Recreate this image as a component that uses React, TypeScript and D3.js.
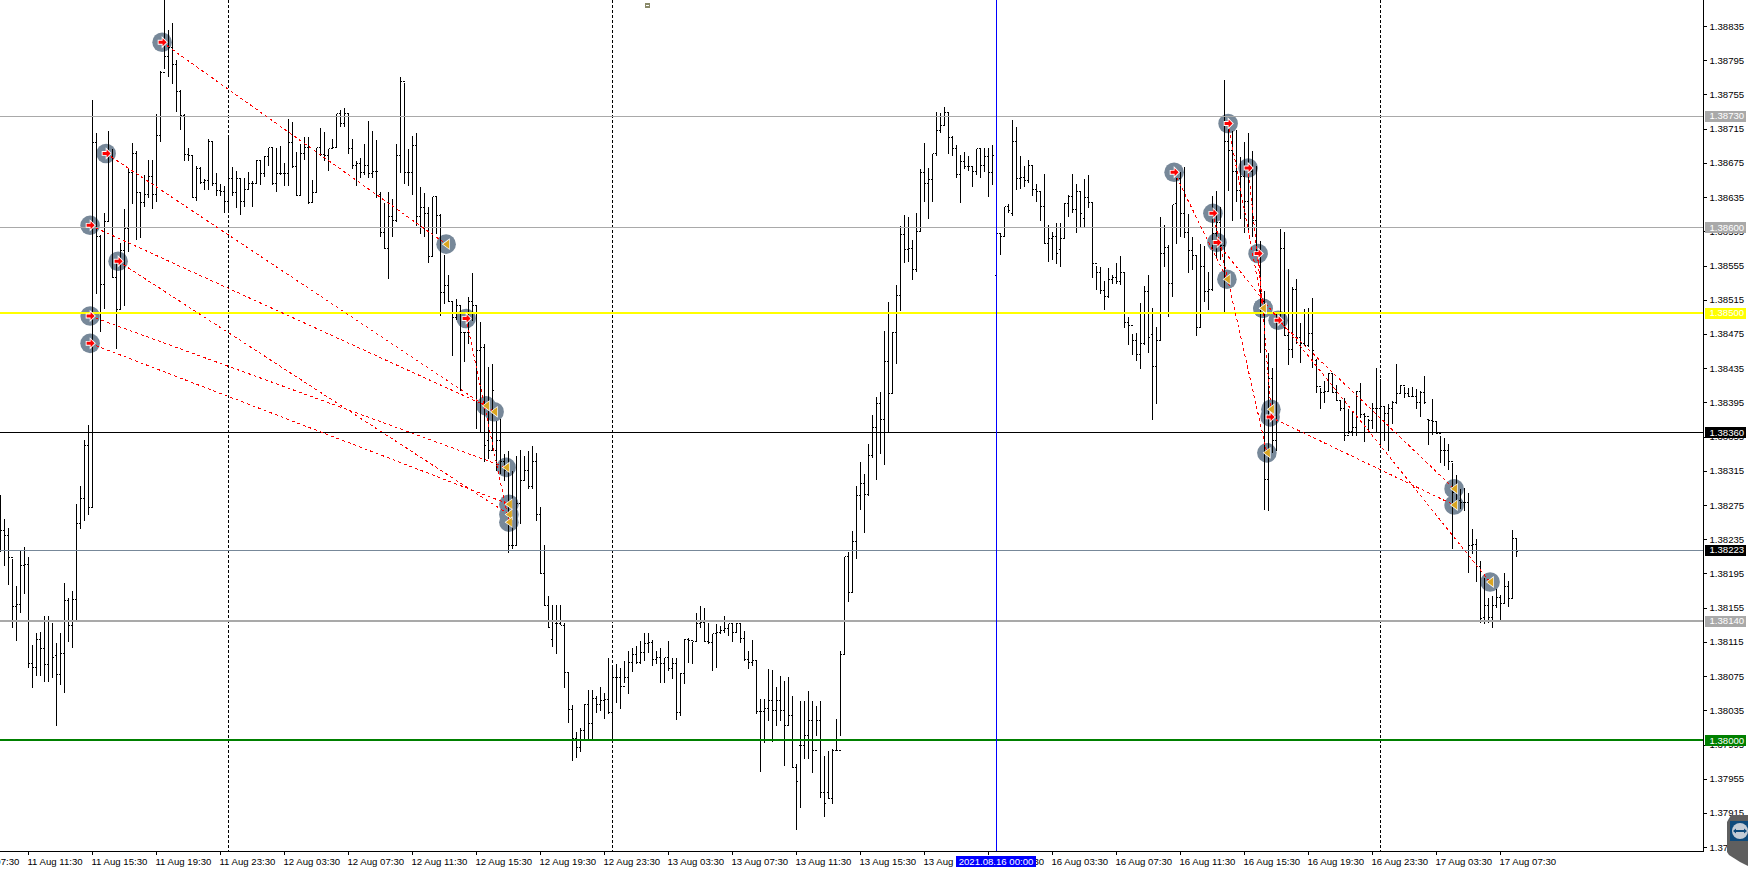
import { useEffect, useRef } from "react";
import * as d3 from "d3";

const WIDTH = 1748;
const HEIGHT = 870;

// M15 bars, values are points above 1.37000 (1835 = 1.38835)
const barHigh = [
  1288,1260,1249,1213,1181,1222,1227,1215,1112,1126,1128,1146,1146,1138,1115,1126,1185,1167,1176,1277,
  1298,1352,1370,1750,1711,1592,1617,1713,1692,1559,1583,1622,1669,1699,1690,1641,1662,1679,1680,1733,
  1784,1875,1831,1840,1796,1761,1733,1694,1684,1672,1671,1657,1704,1700,1664,1652,1649,1705,1671,1667,
  1657,1658,1665,1655,1679,1680,1684,1694,1693,1693,1696,1676,1727,1724,1689,1698,1706,1706,1656,1693,
  1717,1712,1692,1704,1733,1738,1740,1735,1704,1678,1682,1698,1725,1714,1703,1642,1629,1642,1634,1698,
  1776,1769,1692,1707,1711,1648,1641,1624,1636,1636,1616,1569,1545,1514,1517,1509,1477,1519,1547,1509,
  1490,1464,1438,1441,1374,1377,1336,1339,1316,1333,1341,1333,1339,1345,1337,1274,1229,1170,1159,1159,
  1159,1138,1080,1042,1011,1015,1043,1060,1060,1053,1063,1057,1097,1086,1090,1086,1094,1105,1109,1111,
  1117,1126,1126,1118,1105,1109,1097,1117,1097,1097,1080,1119,1121,1116,1150,1158,1156,1138,1125,1137,
  1135,1146,1137,1138,1138,1138,1129,1105,1118,1094,1050,1050,1084,1083,1064,1076,1070,1075,1053,973,
  1047,1047,1059,1047,1041,1047,983,989,991,1026,1105,1215,1221,1246,1299,1327,1312,1348,1381,1403,
  1408,1480,1514,1478,1533,1602,1615,1613,1586,1618,1669,1699,1670,1687,1736,1735,1741,1734,1708,1697,
  1685,1689,1684,1671,1692,1692,1693,1694,1697,1593,1593,1624,1628,1726,1718,1684,1672,1680,1672,1652,
  1643,1663,1603,1595,1606,1606,1629,1639,1663,1651,1642,1657,1662,1631,1556,1555,1538,1553,1545,1559,
  1567,1547,1496,1476,1477,1512,1532,1545,1507,1484,1613,1604,1580,1627,1658,1666,1671,1616,1589,1567,
  1581,1579,1549,1638,1643,1625,1773,1725,1713,1715,1683,1701,1711,1690,1672,1585,1526,1454,1436,1499,
  1599,1595,1552,1531,1540,1489,1505,1506,1518,1447,1413,1421,1430,1431,1417,1398,1401,1388,1386,1409,
  1419,1384,1377,1395,1436,1423,1392,1394,1398,1441,1417,1414,1413,1414,1412,1409,1427,1375,1400,1374,
  1357,1354,1347,1325,1311,1295,1296,1290,1248,1236,1211,1191,1167,1170,1178,1171,1197,1187,1247,1236,
];

const barLow = [
  1221,1205,1183,1133,1117,1150,1172,1086,1062,1076,1076,1069,1069,1074,1018,1066,1057,1116,1109,1142,
  1248,1257,1265,1273,1523,1479,1505,1607,1541,1458,1504,1509,1572,1628,1586,1588,1624,1635,1622,1631,
  1700,1786,1777,1768,1736,1715,1678,1678,1635,1632,1651,1645,1645,1649,1637,1638,1618,1620,1638,1623,
  1615,1624,1644,1624,1651,1650,1660,1672,1650,1642,1662,1649,1649,1670,1637,1637,1680,1628,1629,1641,
  1684,1678,1667,1692,1693,1718,1718,1687,1669,1649,1659,1662,1658,1659,1635,1590,1575,1540,1589,1607,
  1664,1651,1649,1639,1602,1593,1590,1559,1566,1593,1497,1511,1514,1450,1493,1409,1443,1464,1491,1365,
  1362,1327,1330,1339,1316,1312,1304,1220,1225,1230,1254,1305,1295,1295,1257,1195,1158,1132,1110,1102,
  1136,1062,1021,977,980,987,1003,1003,1003,1033,1035,1026,1032,1000,1045,1038,1068,1055,1081,1090,
  1090,1094,1103,1088,1090,1068,1068,1082,1073,1025,1029,1067,1091,1090,1116,1133,1116,1114,1082,1086,
  1125,1126,1123,1116,1126,1115,1094,1084,1088,1032,964,998,1024,999,1018,1024,971,1018,969,896,
  922,979,979,963,1006,934,911,932,927,989,1006,1101,1163,1174,1213,1270,1244,1287,1331,1305,
  1336,1323,1360,1406,1441,1503,1559,1560,1539,1549,1595,1631,1610,1631,1684,1711,1719,1686,1684,1659,
  1629,1669,1667,1648,1662,1659,1666,1636,1650,1544,1569,1590,1618,1614,1645,1646,1648,1653,1637,1631,
  1608,1581,1560,1563,1558,1555,1587,1613,1617,1594,1600,1600,1623,1541,1528,1523,1504,1518,1534,1534,
  1533,1483,1463,1452,1444,1435,1463,1454,1375,1394,1469,1554,1496,1519,1581,1589,1588,1548,1551,1474,
  1483,1514,1504,1526,1565,1563,1502,1643,1608,1630,1610,1594,1597,1590,1569,1454,1270,1269,1337,1339,
  1495,1474,1440,1448,1465,1442,1462,1461,1436,1407,1389,1395,1409,1407,1398,1386,1351,1359,1357,1357,
  1378,1350,1360,1365,1362,1344,1351,1339,1371,1394,1406,1401,1402,1402,1389,1379,1394,1346,1358,1359,
  1325,1322,1317,1225,1278,1271,1269,1197,1219,1186,1138,1137,1138,1133,1156,1140,1161,1157,1167,1215,
];

const barOpen = [
  1270,1246,1240,1214,1157,1159,1205,1206,1090,1086,1118,1108,1089,1139,1100,1077,1102,1164,1135,1165,
  1254,1283,1345,1273,1699,1590,1533,1607,1686,1542,1504,1573,1599,1664,1687,1641,1629,1639,1660,1639,
  1708,1781,1800,1810,1791,1759,1731,1685,1684,1635,1669,1653,1655,1700,1652,1643,1642,1631,1657,1641,
  1657,1631,1644,1651,1651,1678,1663,1683,1693,1652,1663,1663,1663,1699,1671,1638,1686,1693,1629,1641,
  1693,1685,1684,1692,1693,1733,1722,1733,1692,1672,1675,1664,1672,1663,1665,1639,1594,1575,1613,1608,
  1684,1771,1664,1664,1696,1613,1623,1616,1566,1636,1614,1524,1532,1514,1495,1509,1477,1477,1514,1509,
  1456,1460,1351,1339,1339,1351,1327,1316,1228,1228,1277,1304,1316,1297,1327,1264,1195,1158,1118,1137,
  1137,1135,1080,1036,1003,992,1012,1042,1020,1050,1042,1047,1048,1033,1074,1074,1064,1074,1091,1101,
  1091,1103,1114,1115,1095,1097,1090,1097,1084,1090,1033,1079,1118,1117,1116,1137,1138,1116,1115,1125,
  1126,1129,1131,1137,1126,1137,1119,1095,1091,1094,1034,1034,1038,1047,1035,1047,1035,1018,1029,969,
  994,994,1006,1024,989,1024,939,939,932,989,989,1101,1215,1173,1233,1287,1301,1288,1333,1366,
  1394,1375,1443,1406,1477,1520,1592,1574,1576,1551,1595,1664,1651,1656,1687,1713,1719,1735,1705,1692,
  1662,1677,1671,1671,1666,1692,1672,1683,1664,1544,1593,1590,1624,1616,1701,1657,1659,1655,1672,1645,
  1642,1624,1581,1587,1590,1574,1587,1628,1636,1621,1642,1611,1635,1629,1558,1547,1526,1519,1539,1541,
  1537,1547,1489,1486,1468,1452,1464,1525,1475,1437,1468,1570,1577,1534,1628,1657,1616,1594,1573,1567,
  1483,1555,1525,1528,1593,1606,1579,1701,1690,1666,1643,1660,1631,1666,1608,1573,1514,1306,1424,1351,
  1491,1576,1474,1457,1528,1471,1465,1462,1476,1444,1414,1407,1408,1429,1407,1398,1388,1357,1361,1366,
  1408,1381,1379,1374,1389,1389,1391,1383,1389,1395,1406,1415,1406,1403,1403,1395,1407,1375,1374,1373,
  1359,1339,1339,1327,1290,1281,1278,1278,1228,1229,1204,1144,1158,1144,1158,1167,1161,1180,1166,1236,
];

const barClose = [
  1246,1240,1214,1157,1159,1205,1206,1090,1086,1118,1108,1089,1139,1097,1077,1102,1164,1135,1165,1254,
  1283,1345,1273,1699,1590,1533,1607,1686,1542,1504,1573,1599,1664,1687,1641,1629,1639,1660,1639,1708,
  1781,1800,1810,1791,1759,1731,1685,1684,1635,1669,1653,1655,1700,1652,1643,1642,1631,1657,1641,1657,
  1631,1644,1651,1651,1678,1663,1683,1693,1652,1663,1663,1663,1699,1671,1638,1686,1693,1629,1641,1693,
  1685,1684,1692,1693,1733,1722,1733,1692,1672,1675,1664,1672,1663,1665,1666,1594,1575,1613,1608,1684,
  1771,1664,1664,1696,1613,1623,1616,1566,1636,1614,1524,1532,1514,1495,1509,1477,1477,1514,1509,1456,
  1460,1345,1339,1409,1351,1327,1316,1228,1228,1277,1304,1316,1297,1327,1264,1195,1158,1132,1140,1137,
  1135,1080,1036,1003,992,1012,1042,1020,1050,1042,1047,1048,1033,1074,1074,1064,1074,1091,1101,1091,
  1103,1114,1115,1095,1097,1090,1097,1084,1090,1033,1079,1118,1117,1116,1137,1138,1116,1115,1125,1126,
  1129,1131,1137,1126,1137,1119,1095,1091,1094,1034,1034,1038,1047,1035,1047,1035,1018,1029,969,952,
  994,1006,1024,989,1024,939,927,932,989,989,1101,1215,1173,1233,1287,1301,1288,1333,1366,1394,
  1375,1443,1406,1477,1520,1592,1574,1576,1551,1595,1664,1651,1656,1687,1713,1719,1735,1705,1692,1662,
  1677,1671,1671,1666,1692,1672,1683,1664,1684,1593,1590,1624,1620,1701,1657,1659,1655,1672,1645,1642,
  1624,1581,1587,1590,1570,1587,1628,1636,1621,1642,1616,1635,1629,1558,1547,1526,1519,1539,1541,1537,
  1547,1489,1486,1468,1452,1464,1525,1472,1437,1468,1570,1577,1534,1627,1657,1616,1594,1573,1567,1483,
  1555,1525,1528,1593,1606,1579,1701,1690,1666,1643,1660,1631,1666,1608,1573,1514,1306,1424,1351,1491,
  1576,1474,1457,1528,1471,1465,1462,1476,1456,1414,1407,1408,1429,1407,1398,1388,1357,1361,1366,1408,
  1381,1379,1374,1389,1389,1391,1383,1389,1395,1406,1415,1406,1403,1403,1395,1407,1396,1374,1373,1359,
  1339,1339,1327,1290,1281,1278,1278,1228,1229,1204,1143,1158,1144,1158,1167,1161,1180,1166,1236,1221,
];

// closed trades: entry and exit, bar position and points above 1.37000
const tradeOpenBar = [40.4, 26.4, 22.4, 29.4, 22.4, 22.4, 116.4, 293.4, 303.1, 304.1, 306.9, 311.9, 314.4, 319.4, 317.4];
const tradeOpenPts = [1816, 1686, 1602, 1560, 1496, 1464, 1493, 1664, 1616, 1582, 1721, 1669, 1569, 1491, 1378];
const tradeCloseBar = [111.4, 123.4, 121.4, 127.1, 126.4, 127.1, 127.1, 306.6, 316.6, 372.4, 315.6, 315.6, 317.6, 363.4, 363.4];
const tradeClosePts = [1580, 1384, 1391, 1264, 1319, 1276, 1255, 1539, 1336, 1185, 1505, 1505, 1387, 1294, 1275];

// horizontal levels on the price axis
const levelPrice = [1.3873, 1.386, 1.385, 1.3836, 1.38223, 1.3814, 1.38];
const levelLine = ["#a9a9a9", "#a9a9a9", "#ffff00", "#000000", "#778899", "#a9a9a9", "#008000"];
const levelBox = ["#a9a9a9", "#a9a9a9", "#ffff00", "#000000", "#000000", "#a9a9a9", "#008000"];
const levelWidth = [1, 1, 2, 1, 1, 2, 2];

const priceTicks = [
  1.37875, 1.37915, 1.37955, 1.37995, 1.38035, 1.38075, 1.38115, 1.38155, 1.38195, 1.38235, 1.38275, 1.38315,
  1.38355, 1.38395, 1.38435, 1.38475, 1.38515, 1.38555, 1.38595, 1.38635, 1.38675, 1.38715, 1.38755, 1.38795,
  1.38835,
];

// one label every 16 bars, first tick is off the left edge
const timeBars = d3.range(-9, 380, 16);
const timeLabels = [
  "11 Aug 07:30", "11 Aug 11:30", "11 Aug 15:30", "11 Aug 19:30", "11 Aug 23:30",
  "12 Aug 03:30", "12 Aug 07:30", "12 Aug 11:30", "12 Aug 15:30", "12 Aug 19:30", "12 Aug 23:30",
  "13 Aug 03:30", "13 Aug 07:30", "13 Aug 11:30", "13 Aug 15:30", "13 Aug 19:30", "13 Aug 23:30",
  "16 Aug 03:30", "16 Aug 07:30", "16 Aug 11:30", "16 Aug 15:30", "16 Aug 19:30", "16 Aug 23:30",
  "17 Aug 03:30", "17 Aug 07:30",
];

const separatorBars = [57, 153, 345];
const cursorBar = 249;
const cursorLabel = "2021.08.16 00:00";

const AXIS_X = 1703.5;
const AXIS_Y = 851.5;
const FONT = "'Liberation Sans', sans-serif";

export default function App() {
  const svgRef = useRef<SVGSVGElement | null>(null);

  useEffect(() => {
    if (!svgRef.current) return;
    const svg = d3.select(svgRef.current);
    svg.selectAll("*").remove();

    const x = d3.scaleLinear().domain([0, 380]).range([0.5, 1520.5]);
    const y = d3.scaleLinear().domain([1.38835, 1.37875]).range([26, 847.2]);
    const toPrice = (pts: number) => 1.37 + pts / 100000;
    const yPts = (pts: number) => Math.round(y(toPrice(pts))) + 0.5;
    // even widths land on a pixel edge, odd ones on a pixel centre
    const yLevel = (price: number, width: number) =>
      Math.round(y(price)) + (width % 2 ? 0.5 : 0);

    const plot = svg.append("g");

    // grey discs sit under the bars
    const discs = [
      ...tradeOpenBar.map((b, i) => [b, tradeOpenPts[i]]),
      ...tradeCloseBar.map((b, i) => [b, tradeClosePts[i]]),
    ];
    plot.append("g").selectAll("circle").data(discs).join("circle")
      .attr("cx", (d) => x(d[0]))
      .attr("cy", (d) => y(toPrice(d[1])))
      .attr("r", 9.8)
      .attr("fill", "#778899");

    // period separators
    plot.append("g").selectAll("line").data(separatorBars).join("line")
      .attr("x1", (d) => x(d)).attr("x2", (d) => x(d))
      .attr("y1", 0).attr("y2", AXIS_Y)
      .attr("stroke", "#000").attr("stroke-dasharray", "3,2")
      .attr("shape-rendering", "crispEdges");

    // OHLC bars, open and close ticks are one pixel each
    const bars = plot.append("g").attr("stroke", "#000").attr("shape-rendering", "crispEdges");
    const path = d3.path();
    barHigh.forEach((h, i) => {
      const px = x(i);
      path.moveTo(px, yPts(h));
      path.lineTo(px, yPts(barLow[i]) + 0.5);
      path.moveTo(px - 1.5, yPts(barOpen[i]));
      path.lineTo(px, yPts(barOpen[i]));
      path.moveTo(px, yPts(barClose[i]));
      path.lineTo(px + 1.5, yPts(barClose[i]));
    });
    bars.append("path").attr("d", path.toString()).attr("fill", "none");

    // horizontal levels
    plot.append("g").selectAll("line").data(levelPrice).join("line")
      .attr("x1", 0).attr("x2", AXIS_X)
      .attr("y1", (d, i) => yLevel(d, levelWidth[i])).attr("y2", (d, i) => yLevel(d, levelWidth[i]))
      .attr("stroke", (_, i) => levelLine[i])
      .attr("stroke-width", (_, i) => levelWidth[i])
      .attr("shape-rendering", "crispEdges");

    // blue cursor line
    plot.append("line")
      .attr("x1", x(cursorBar)).attr("x2", x(cursorBar))
      .attr("y1", 0).attr("y2", AXIS_Y)
      .attr("stroke", "#0000ff").attr("shape-rendering", "crispEdges");

    // trade lines
    plot.append("g").selectAll("line").data(tradeOpenBar).join("line")
      .attr("x1", (d) => x(d))
      .attr("y1", (_, i) => y(toPrice(tradeOpenPts[i])))
      .attr("x2", (_, i) => x(tradeCloseBar[i]))
      .attr("y2", (_, i) => y(toPrice(tradeClosePts[i])))
      .attr("stroke", "#ff0000")
      .attr("stroke-dasharray", "3,3")
      .attr("shape-rendering", "crispEdges");

    // entry arrows and exit triangles
    const arrow = d3.path();
    arrow.moveTo(-3.5, -1.5); arrow.lineTo(0.5, -1.5); arrow.lineTo(0.5, -4); arrow.lineTo(4.5, 0);
    arrow.lineTo(0.5, 4); arrow.lineTo(0.5, 1.5); arrow.lineTo(-3.5, 1.5); arrow.closePath();
    plot.append("g").selectAll("path").data(tradeOpenBar).join("path")
      .attr("transform", (d, i) => `translate(${x(d)},${y(toPrice(tradeOpenPts[i]))})`)
      .attr("d", arrow.toString())
      .attr("fill", "#ff0000").attr("stroke", "#fff").attr("stroke-width", 1.8)
      .attr("paint-order", "stroke");

    const tri = d3.path();
    tri.moveTo(-3, 0); tri.lineTo(3, -4.5); tri.lineTo(3, 4.5); tri.closePath();
    plot.append("g").selectAll("path").data(tradeCloseBar).join("path")
      .attr("transform", (d, i) => `translate(${x(d)},${y(toPrice(tradeClosePts[i]))})`)
      .attr("d", tri.toString())
      .attr("fill", "#daa520").attr("stroke", "#fff").attr("stroke-width", 1.4)
      .attr("paint-order", "stroke");

    // white strip behind the axes so nothing runs under the labels
    svg.append("rect").attr("x", AXIS_X).attr("y", 0).attr("width", WIDTH - AXIS_X).attr("height", HEIGHT).attr("fill", "#fff");
    svg.append("rect").attr("x", 0).attr("y", AXIS_Y).attr("width", WIDTH).attr("height", HEIGHT - AXIS_Y).attr("fill", "#fff");

    // axes
    const axes = svg.append("g").attr("stroke", "#000").attr("shape-rendering", "crispEdges");
    axes.append("line").attr("x1", AXIS_X).attr("x2", AXIS_X).attr("y1", 0).attr("y2", AXIS_Y);
    axes.append("line").attr("x1", 0).attr("x2", AXIS_X).attr("y1", AXIS_Y).attr("y2", AXIS_Y);
    axes.selectAll("line.py").data(priceTicks).join("line").attr("class", "py")
      .attr("x1", AXIS_X).attr("x2", AXIS_X + 3)
      .attr("y1", (d) => Math.round(y(d)) + 0.5).attr("y2", (d) => Math.round(y(d)) + 0.5);
    axes.selectAll("line.tm").data(timeBars).join("line").attr("class", "tm")
      .attr("x1", (d) => x(d)).attr("x2", (d) => x(d))
      .attr("y1", AXIS_Y).attr("y2", AXIS_Y + 3);

    const labels = svg.append("g").attr("font-family", FONT).attr("font-size", 9.6).attr("fill", "#000");
    labels.selectAll("text.py").data(priceTicks).join("text").attr("class", "py")
      .attr("x", AXIS_X + 6).attr("y", (d) => y(d) + 3.5)
      .text((d) => d.toFixed(5));
    labels.selectAll("text.tm").data(timeBars).join("text").attr("class", "tm")
      .attr("x", (d) => x(d) - 1).attr("y", 865)
      .text((_, i) => timeLabels[i]);

    // level tags on the price axis
    const tags = svg.append("g").attr("font-family", FONT).attr("font-size", 9.6);
    tags.selectAll("rect").data(levelPrice).join("rect")
      .attr("x", 1705).attr("y", (d) => Math.round(y(d)) - 5)
      .attr("width", 41).attr("height", 11)
      .attr("fill", (_, i) => levelBox[i]);
    tags.selectAll("text").data(levelPrice).join("text")
      .attr("x", AXIS_X + 6).attr("y", (d) => y(d) + 3.5)
      .attr("fill", "#fff")
      .text((d) => d.toFixed(5));

    // cursor date tag on the time axis
    svg.append("rect").attr("x", 956).attr("y", 856).attr("width", 80).attr("height", 11).attr("fill", "#0000ff");
    svg.append("text").attr("x", 996).attr("y", 865).attr("text-anchor", "middle")
      .attr("font-family", FONT).attr("font-size", 9.6).attr("fill", "#fff").text(cursorLabel);

    // small terminal icon at the top
    const icon = svg.append("g").attr("shape-rendering", "crispEdges");
    icon.append("rect").attr("x", 645).attr("y", 3).attr("width", 5).attr("height", 5).attr("fill", "#8a8a6a");
    icon.append("rect").attr("x", 646).attr("y", 5).attr("width", 3).attr("height", 1).attr("fill", "#fff");

    // remote desktop widget in the corner
    const widget = svg.append("g");
    widget.append("path")
      .attr("d", "M1727,822 L1731,815 L1748,815 L1748,866 L1740,862 L1729,855 L1727,852 Z")
      .attr("fill", "#5f5f5f");
    widget.append("rect").attr("x", 1730).attr("y", 821).attr("width", 18).attr("height", 20).attr("fill", "#0e4a7b");
    widget.append("circle").attr("cx", 1740).attr("cy", 831).attr("r", 8).attr("fill", "#c3ccd6");
    widget.append("path")
      .attr("d", "M1733,831 L1736,828.5 L1736,830 L1744,830 L1744,828.5 L1747,831 L1744,833.5 L1744,832 L1736,832 L1736,833.5 Z")
      .attr("fill", "#0e4a7b");
  }, []);

  return (
    <svg
      ref={svgRef}
      width={WIDTH}
      height={HEIGHT}
      viewBox={`0 0 ${WIDTH} ${HEIGHT}`}
      style={{ position: "absolute", left: 0, top: 0, display: "block", background: "#fff" }}
    />
  );
}
